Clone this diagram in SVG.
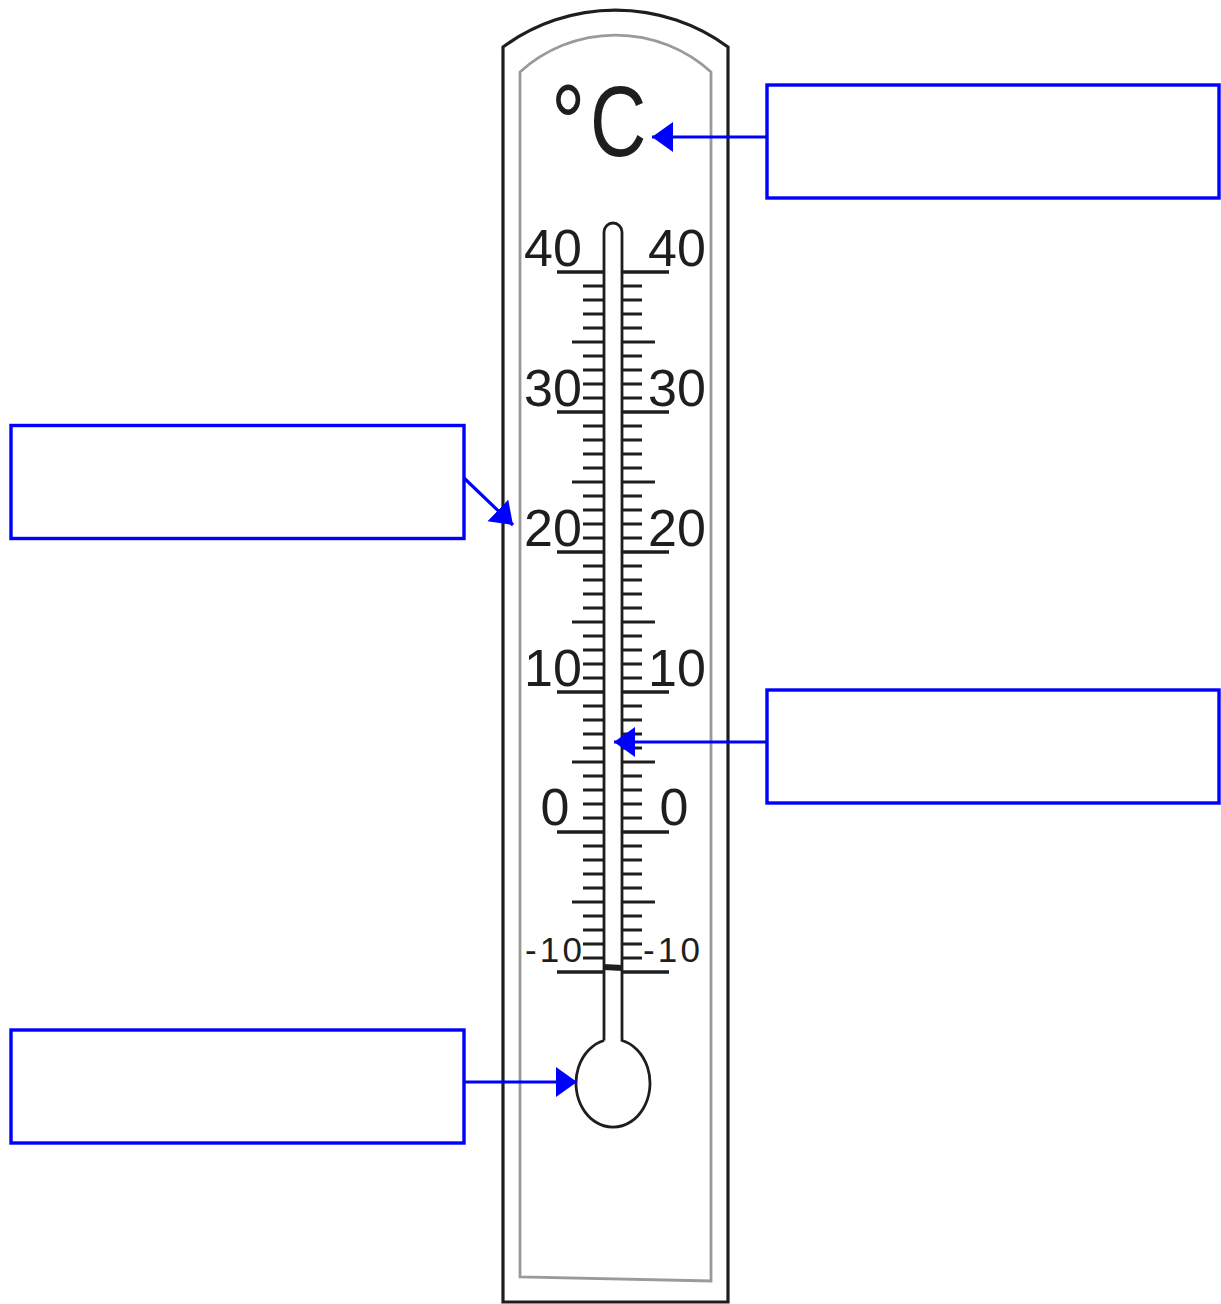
<svg xmlns="http://www.w3.org/2000/svg" width="1221" height="1304" viewBox="0 0 1221 1304">
  <style>
    .frame { fill: #ffffff; stroke: #1e1e1e; stroke-width: 3.2; }
    .inner { fill: none; stroke: #9a9a9a; stroke-width: 2.8; }
    .tick { fill: none; stroke: #1e1e1e; stroke-width: 3; }
    .major { fill: none; stroke: #1e1e1e; stroke-width: 3.4; }
    .tube { fill: #ffffff; stroke: #1e1e1e; stroke-width: 2.8; }
    .num { font-family: "Liberation Sans", Arial, sans-serif; font-size: 52px; fill: #1e1e1e; text-anchor: middle; }
    .neg { font-family: "Liberation Sans", Arial, sans-serif; font-size: 35px; fill: #1e1e1e; }
    .unit { font-family: "Liberation Sans", Arial, sans-serif; font-size: 100px; fill: #1e1e1e; }
    .box { fill: #ffffff; stroke: #0000ff; stroke-width: 3.4; }
    .conn { fill: none; stroke: #0000ff; stroke-width: 3.2; }
  </style>
  <defs>
    <marker id="arrow" markerUnits="userSpaceOnUse" markerWidth="22" markerHeight="32" refX="21" refY="15" orient="auto">
      <path d="M0,0 L21,15 L0,30 Z" fill="#0000ff"/>
    </marker>
  </defs>
  <rect width="1221" height="1304" fill="#ffffff"/>

  <g id="thermometer">
    <path class="frame" d="M503,1302 V47 A190,190 0 0 1 728,47 V1302 Z"/>
    <path class="inner" d="M520,1277 V72 A142,142 0 0 1 711,72 V1281 Z"/>

    <!-- major lines -->
    <path class="major" d="M557,272H603M622,272H669 M557,412H603M622,412H669 M557,552H603M622,552H669 M557,692H603M622,692H669 M557,832H603M622,832H669 M557,972H603M622,972H669"/>
    <!-- half-decade ticks -->
    <path class="tick" d="M572,342H603M622,342H655 M572,482H603M622,482H655 M572,622H603M622,622H655 M572,762H603M622,762H655 M572,902H603M622,902H655"/>
    <!-- small ticks left -->
    <path class="tick" d="M583,286H603M583,300H603M583,314H603M583,328H603 M583,356H603M583,370H603M583,384H603M583,398H603 M583,426H603M583,440H603M583,454H603M583,468H603 M583,496H603M583,510H603M583,524H603M583,538H603 M583,566H603M583,580H603M583,594H603M583,608H603 M583,636H603M583,650H603M583,664H603M583,678H603 M583,706H603M583,720H603M583,734H603M583,748H603 M583,776H603M583,790H603M583,804H603M583,818H603 M583,846H603M583,860H603M583,874H603M583,888H603 M583,916H603M583,930H603M583,944H603M583,958H603"/>
    <!-- small ticks right -->
    <path class="tick" d="M622,286H642M622,300H642M622,314H642M622,328H642 M622,356H642M622,370H642M622,384H642M622,398H642 M622,426H642M622,440H642M622,454H642M622,468H642 M622,496H642M622,510H642M622,524H642M622,538H642 M622,566H642M622,580H642M622,594H642M622,608H642 M622,636H642M622,650H642M622,664H642M622,678H642 M622,706H642M622,720H642M622,734H642M622,748H642 M622,776H642M622,790H642M622,804H642M622,818H642 M622,846H642M622,860H642M622,874H642M622,888H642 M622,916H642M622,930H642M622,944H642M622,958H642"/>

    <!-- tube and bulb -->
    <path class="tube" d="M604,1040.5 V232 A9,9 0 0 1 622,232 V1040.5 A37,44 0 1 1 604,1040.5"/>
    <path d="M603.5,964 L622.5,965 L622.5,971 L603.5,970 Z" fill="#1e1e1e"/>

    <!-- numbers -->
    <text class="num" x="553" y="266">40</text>
    <text class="num" x="677" y="266">40</text>
    <text class="num" x="553" y="406">30</text>
    <text class="num" x="677" y="406">30</text>
    <text class="num" x="553" y="546">20</text>
    <text class="num" x="677" y="546">20</text>
    <text class="num" x="553" y="686">10</text>
    <text class="num" x="677" y="686">10</text>
    <text class="num" x="555" y="825">0</text>
    <text class="num" x="674" y="825">0</text>
    <text class="neg" x="525" y="962" textLength="57" lengthAdjust="spacing">-10</text>
    <text class="neg" x="643" y="962" textLength="57" lengthAdjust="spacing">-10</text>

    <text class="unit" transform="translate(551,156) scale(0.78,1)"><tspan font-size="110" dy="5">°</tspan><tspan dx="6" dy="-5">C</tspan></text>
  </g>

  <g id="label-unit"><rect class="box" x="767" y="85" width="452" height="113"/></g>
  <g id="label-scale"><rect class="box" x="11" y="425.5" width="453" height="113"/></g>
  <g id="label-tube"><rect class="box" x="767" y="690" width="452" height="113"/></g>
  <g id="label-bulb"><rect class="box" x="11" y="1030" width="453" height="113"/></g>

  <g id="connectors">
    <path class="conn" d="M767,137 H652" marker-end="url(#arrow)"/>
    <path class="conn" d="M464,478 L513,525" marker-end="url(#arrow)"/>
    <path class="conn" d="M767,742 H614" marker-end="url(#arrow)"/>
    <path class="conn" d="M464,1082 H577" marker-end="url(#arrow)"/>
  </g>
</svg>
